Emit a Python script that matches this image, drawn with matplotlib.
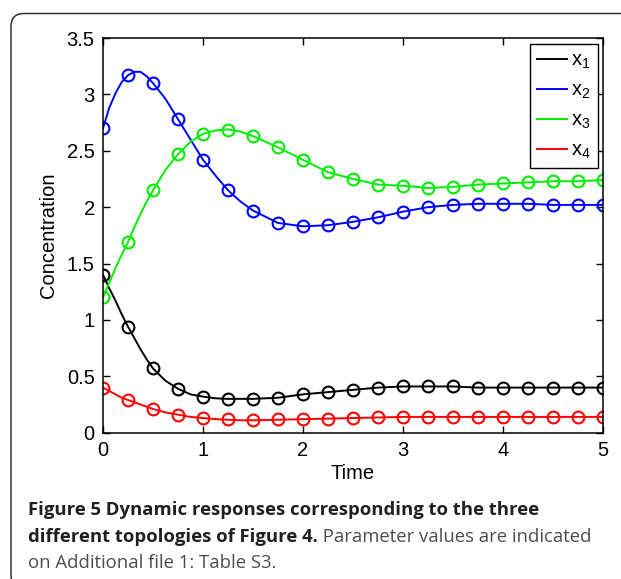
import matplotlib
matplotlib.use('Agg')
import matplotlib.pyplot as plt
from matplotlib.patches import FancyBboxPatch
from matplotlib.transforms import IdentityTransform

plt.rcParams['font.family'] = 'Liberation Sans'
plt.rcParams['mathtext.fontset'] = 'custom'
plt.rcParams['mathtext.rm'] = 'Liberation Sans'
plt.rcParams['mathtext.it'] = 'Liberation Sans:italic'

# sampled points (circles)
t_pts = [0, 0.25, 0.5, 0.75, 1, 1.25, 1.5, 1.75, 2, 2.25, 2.5, 2.75, 3,
         3.25, 3.5, 3.75, 4, 4.25, 4.5, 4.75, 5]
x1_pts = [1.40, 0.94, 0.57, 0.39, 0.32, 0.30, 0.30, 0.31, 0.34, 0.36, 0.38, 0.40,
          0.41, 0.41, 0.41, 0.40, 0.40, 0.40, 0.40, 0.40, 0.40]
x2_pts = [2.70, 3.17, 3.10, 2.78, 2.42, 2.15, 1.97, 1.86, 1.83, 1.84, 1.87, 1.91,
          1.96, 2.00, 2.02, 2.03, 2.03, 2.03, 2.02, 2.02, 2.02]
x3_pts = [1.20, 1.69, 2.15, 2.47, 2.65, 2.68, 2.63, 2.53, 2.42, 2.31, 2.25, 2.20,
          2.19, 2.17, 2.18, 2.20, 2.21, 2.22, 2.23, 2.23, 2.24]
x4_pts = [0.40, 0.29, 0.21, 0.16, 0.13, 0.12, 0.11, 0.12, 0.12, 0.125, 0.13, 0.135,
          0.14, 0.14, 0.14, 0.14, 0.14, 0.14, 0.14, 0.14, 0.14]

# continuous curves (denser read-out where the curves bend)
t_line = [0, 0.0625, 0.125, 0.1875, 0.25, 0.3125, 0.375, 0.4375, 0.5, 0.625, 0.75,
          0.875, 1, 1.125, 1.25, 1.375, 1.5, 1.75, 2, 2.25, 2.5, 2.75, 3, 3.25,
          3.5, 3.75, 4, 4.25, 4.5, 4.75, 5]
x1_line = [1.40, 1.28, 1.17, 1.05, 0.94, 0.84, 0.74, 0.65, 0.57, 0.46, 0.39, 0.34,
           0.32, 0.305, 0.30, 0.30, 0.30, 0.31, 0.34, 0.36, 0.38, 0.40, 0.41, 0.41,
           0.41, 0.40, 0.40, 0.40, 0.40, 0.40, 0.40]
x2_line = [2.70, 2.88, 3.01, 3.11, 3.17, 3.20, 3.20, 3.16, 3.10, 2.96, 2.78, 2.60,
           2.42, 2.28, 2.15, 2.05, 1.97, 1.86, 1.83, 1.84, 1.87, 1.91, 1.96, 2.00,
           2.02, 2.03, 2.03, 2.03, 2.02, 2.02, 2.02]
x3_line = [1.20, 1.33, 1.46, 1.58, 1.69, 1.82, 1.94, 2.05, 2.15, 2.33, 2.47, 2.58,
           2.65, 2.68, 2.69, 2.67, 2.63, 2.53, 2.42, 2.31, 2.25, 2.20, 2.19, 2.17,
           2.18, 2.20, 2.21, 2.22, 2.23, 2.23, 2.24]
x4_line = [0.40, 0.37, 0.34, 0.31, 0.29, 0.27, 0.25, 0.23, 0.21, 0.18, 0.16, 0.14,
           0.13, 0.12, 0.115, 0.11, 0.11, 0.115, 0.12, 0.125, 0.13, 0.135, 0.14,
           0.14, 0.14, 0.14, 0.14, 0.14, 0.14, 0.14, 0.14]

series_names = [r'$\mathregular{x_1}$', r'$\mathregular{x_2}$',
                r'$\mathregular{x_3}$', r'$\mathregular{x_4}$']
colors = ['#000000', '#0000ff', '#00ee00', '#ff0000']

x_ticks = [0, 1, 2, 3, 4, 5]
y_ticks = [0, 0.5, 1, 1.5, 2, 2.5, 3, 3.5]
y_tick_labels = ['0', '0.5', '1', '1.5', '2', '2.5', '3', '3.5']

W, H = 621, 579
fig = plt.figure(figsize=(W / 100, H / 100), dpi=100)

# rounded frame around the whole figure panel
frame = FancyBboxPatch((11, -9), 650, 574.5, boxstyle='round,pad=0,rounding_size=13',
                       transform=IdentityTransform(), facecolor='none',
                       edgecolor='#333333', linewidth=1.1)
fig.patches.append(frame)

ax = fig.add_axes([103 / W, 1 - 432.7 / H, 500 / W, 394.7 / H])

lines_y = [x1_line, x2_line, x3_line, x4_line]
pts_y = [x1_pts, x2_pts, x3_pts, x4_pts]
for ly, py, c, name in zip(lines_y, pts_y, colors, series_names):
    ax.plot(t_line, ly, color=c, linewidth=1.4, label=name)
    ax.plot(t_pts, py, linestyle='none', marker='o', markersize=8.5,
            markerfacecolor='none', markeredgecolor=c, markeredgewidth=1.5)

ax.set_xlim(0, 5)
ax.set_ylim(0, 3.5)
ax.set_xticks(x_ticks)
ax.set_yticks(y_ticks)
ax.set_yticklabels(y_tick_labels)
ax.tick_params(direction='in', length=5, width=1, top=True, right=True,
               labelsize=14.5, pad=6)
for sp in ax.spines.values():
    sp.set_linewidth(1.1)

ax.set_xlabel('Time', fontsize=14.5, labelpad=3)
ax.set_ylabel('Concentration', fontsize=14.5, labelpad=6)

leg = ax.legend(loc='upper right', bbox_to_anchor=(0.99, 0.985), borderaxespad=0,
                fontsize=14.5, handlelength=1.5, handletextpad=0.2,
                borderpad=0.35, labelspacing=0.48, fancybox=False, framealpha=1)
leg.get_frame().set_edgecolor('black')
leg.get_frame().set_linewidth(1.0)

# caption
cap_font = 'Open Sans'
cap_size = 13.3
dark = '#231f20'
grey = '#4d4d4d'
x0 = 28 / W
fig.text(x0, 1 - 515 / H, 'Figure 5 Dynamic responses corresponding to the three',
         fontsize=cap_size, fontweight='bold', family=cap_font, color=dark, va='baseline')
t2 = fig.text(x0, 1 - 541.5 / H, 'different topologies of Figure 4.',
              fontsize=cap_size, fontweight='bold', family=cap_font, color=dark, va='baseline')
fig.text(x0, 1 - 568 / H, 'on Additional file 1: Table S3.', fontsize=cap_size,
         family=cap_font, color=grey, va='baseline')

# continue line 2 in regular weight right after the bold part
fig.canvas.draw()
bb = t2.get_window_extent()
fig.text(bb.x1 / W, 1 - 541.5 / H, ' Parameter values are indicated', fontsize=cap_size,
         family=cap_font, color=grey, va='baseline')

fig.savefig('out.png', dpi=100)
